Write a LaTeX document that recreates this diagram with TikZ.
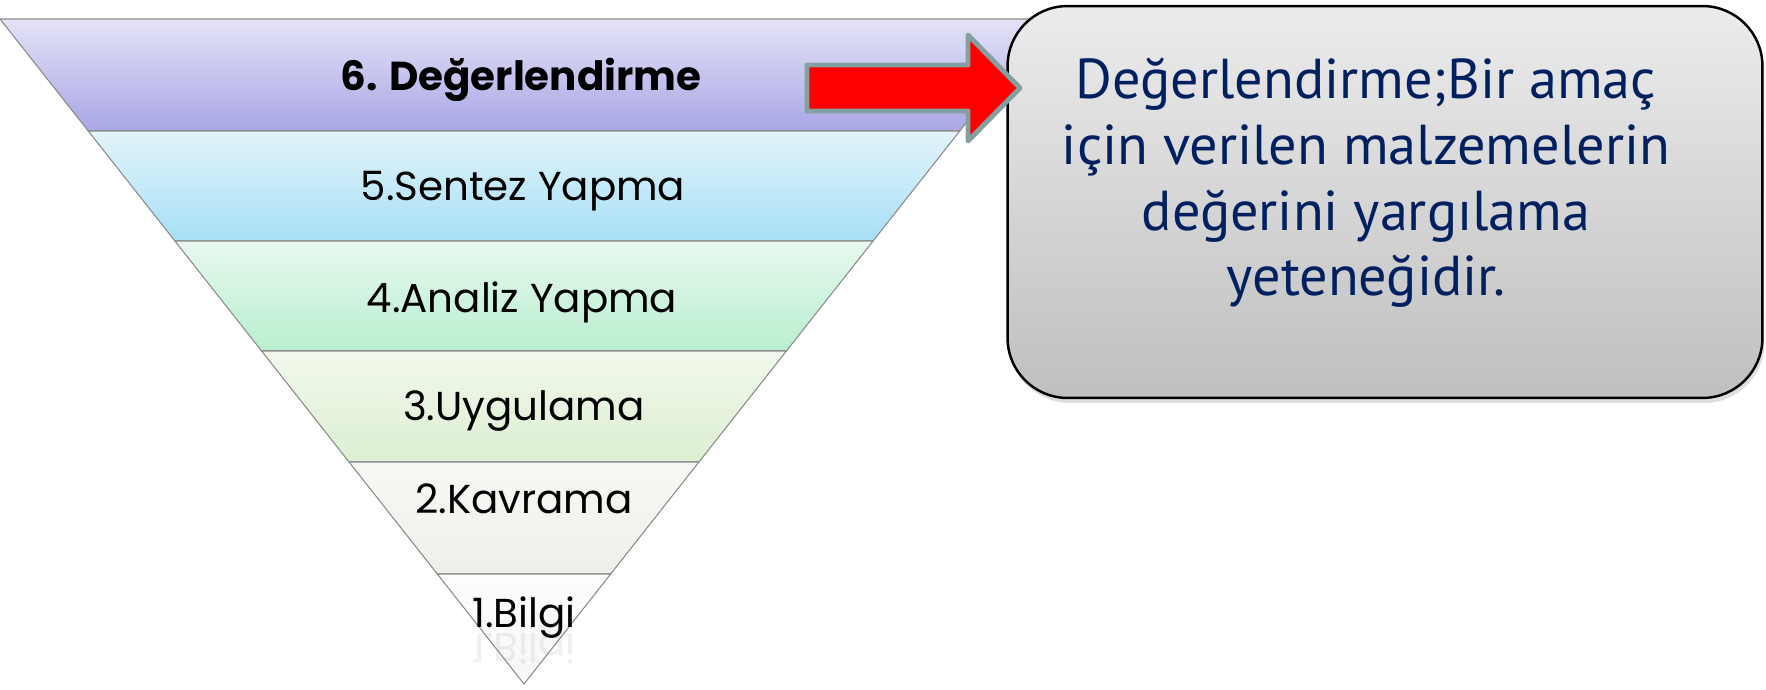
\documentclass[tikz,border=0pt]{standalone}
\usepackage{fontspec}
\setmainfont{PT Sans}
\newfontfamily\lvlfont{Poppins}
\usetikzlibrary{shadows}

\definecolor{bandline}{HTML}{8A8A8A}
\definecolor{arrowedge}{HTML}{85A0A0}
\definecolor{navytext}{HTML}{002060}
\definecolor{sixtop}{HTML}{E4E3F6}
\definecolor{sixbot}{HTML}{A9A6E6}
\definecolor{fivetop}{HTML}{E3F4FB}
\definecolor{fivebot}{HTML}{A6DFF5}
\definecolor{fourtop}{HTML}{E8F8EF}
\definecolor{fourbot}{HTML}{B8EFCE}
\definecolor{threetop}{HTML}{F1F8EC}
\definecolor{threebot}{HTML}{DCEFD2}
\definecolor{twotop}{HTML}{F7F7F4}
\definecolor{twobot}{HTML}{EFEFEA}
\definecolor{onetop}{HTML}{FDFDFD}
\definecolor{onebot}{HTML}{F7F7F7}

% one layer of the upside-down pyramid: top y, bottom y, top colour, bottom colour
\newcommand\band[4]{%
\pgfmathsetmacro\wa{\hw/(\ay-\ty)*(\ay-#1)}%
\pgfmathsetmacro\wb{\hw/(\ay-\ty)*(\ay-#2)}%
\shadedraw[top color=#3, bottom color=#4, draw=bandline, line width=0.6pt] (\ax-\wa,#1) -- (\ax+\wa,#1) -- (\ax+\wb,#2) -- (\ax-\wb,#2) -- cycle;
}

\begin{document}
\begin{tikzpicture}[x=0.02cm,y=-0.02cm,
  lvl/.style={font=\lvlfont\fontsize{23}{28}\selectfont, inner sep=0pt, anchor=base},
  infobox/.style={draw=black, line width=1.4pt, rounded corners=1.2cm,
    top color=gray!15, bottom color=gray!50, minimum width=15.1cm, minimum height=7.84cm,
    drop shadow={shadow xshift=0.04cm, shadow yshift=-0.1cm, opacity=0.25}}]
	%% some definitions
	\useasboundingbox (0,0) rectangle (1766,690);

	\def\ax{524} % apex x
	\def\ay{684} % apex y
	\def\ty{19} % top edge
	\def\hw{524} % half width at the top

	\band{19}{131}{sixtop}{sixbot}
	\band{131}{241}{fivetop}{fivebot}
	\band{241}{351}{fourtop}{fourbot}
	\band{351}{462}{threetop}{threebot}
	\band{462}{574}{twotop}{twobot}
	\band{574}{684}{onetop}{onebot}

	\node[lvl, font=\lvlfont\bfseries\fontsize{23}{28}\selectfont] (l6) at (521,90) {6. Değerlendirme};
	\node[lvl] (l5) at (523,200) {5.Sentez Yapma};
	\node[lvl] (l4) at (522,312) {4.Analiz Yapma};
	\node[lvl] (l3) at (524,420) {3.Uygulama};
	\node[lvl] (l2) at (524,513) {2.Kavrama};
	\node[lvl] (l1) at (524,627) {1.Bilgi};
	\node[lvl, yscale=-1, text=gray, opacity=0.12] (l1r) at (524,633) {1.Bilgi};

	% the callout
	\node[infobox] (info) at (1385,202) {};
	\node[text=navytext, align=center, font=\fontsize{32}{37.4}\selectfont] (infotext) at (1366,183)
		{Değerlendirme;Bir amaç\\için verilen malzemelerin\\değerini yargılama\\yeteneğidir.};

	% red block arrow
	\filldraw[fill=red, draw=arrowedge, line width=2.8pt, line join=round]
		(807,65) -- (968,65) -- (968,35) -- (1020,88) -- (968,141) -- (968,111) -- (807,111) -- cycle;

\end{tikzpicture}
\end{document}
